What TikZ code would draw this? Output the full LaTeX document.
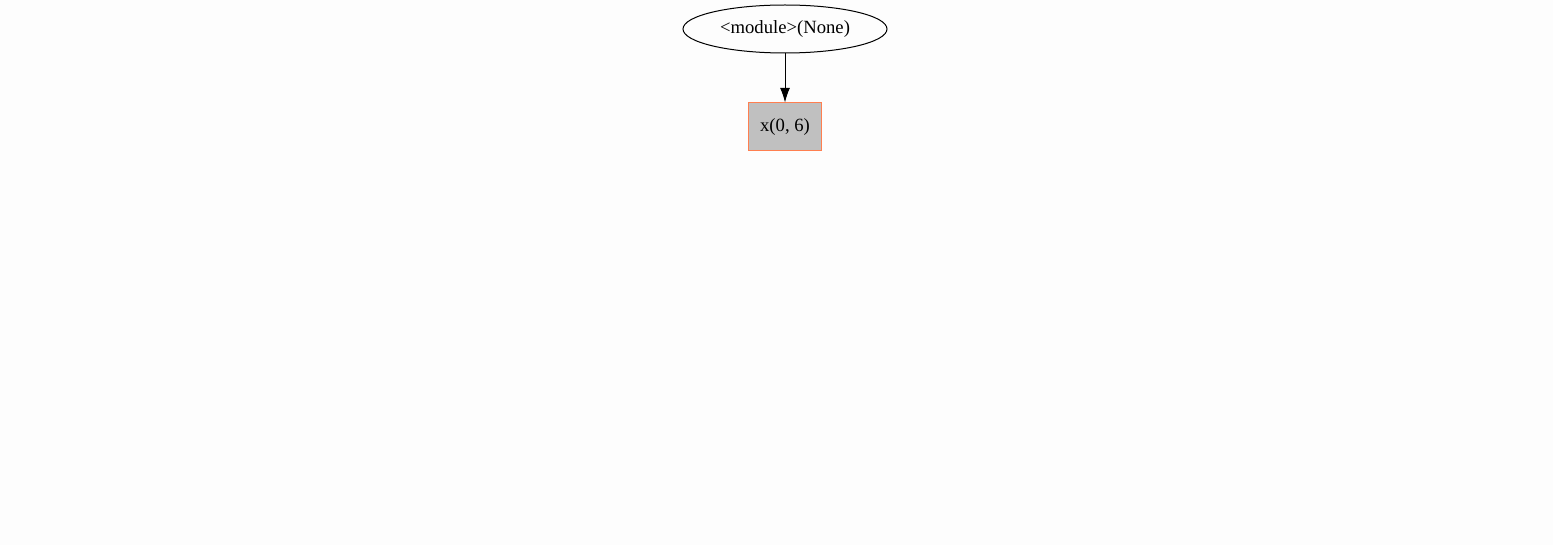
\documentclass[tikz,border=0pt]{standalone}
\usepackage{fontspec}
\setmainfont{Liberation Serif}
\usepackage{xcolor}
\usetikzlibrary{arrows.meta, positioning, shapes.geometric}
\definecolor{pagebg}{HTML}{FDFDFD}
\definecolor{nodefill}{HTML}{C0C0C0}
\definecolor{nodeline}{HTML}{FF7F50}

\begin{document}
\begin{tikzpicture}[
  x=0.75pt, y=-0.75pt,
  modnode/.style={draw, ellipse, line width=0.75pt, inner sep=0pt, minimum width=153pt, minimum height=36pt, font=\fontsize{14pt}{16pt}\selectfont},
  box/.style={draw=nodeline, fill=nodefill, line width=0.75pt, inner sep=0pt, minimum width=54.75pt, minimum height=36pt, font=\fontsize{14pt}{16pt}\selectfont},
  arrow/.style={-{Latex[length=11pt, width=7.5pt]}, line width=0.75pt},
  node distance=36.75pt
]
\fill[pagebg] (0,0) rectangle (1553,545);
\useasboundingbox (0,0) rectangle (1553,545);

\node[modnode] (module) at (785,29) {<module>(None)};
\node[box, below=of module] (x) {x(0, 6)};

\draw[arrow] (module) -- (x);
\end{tikzpicture}
\end{document}
